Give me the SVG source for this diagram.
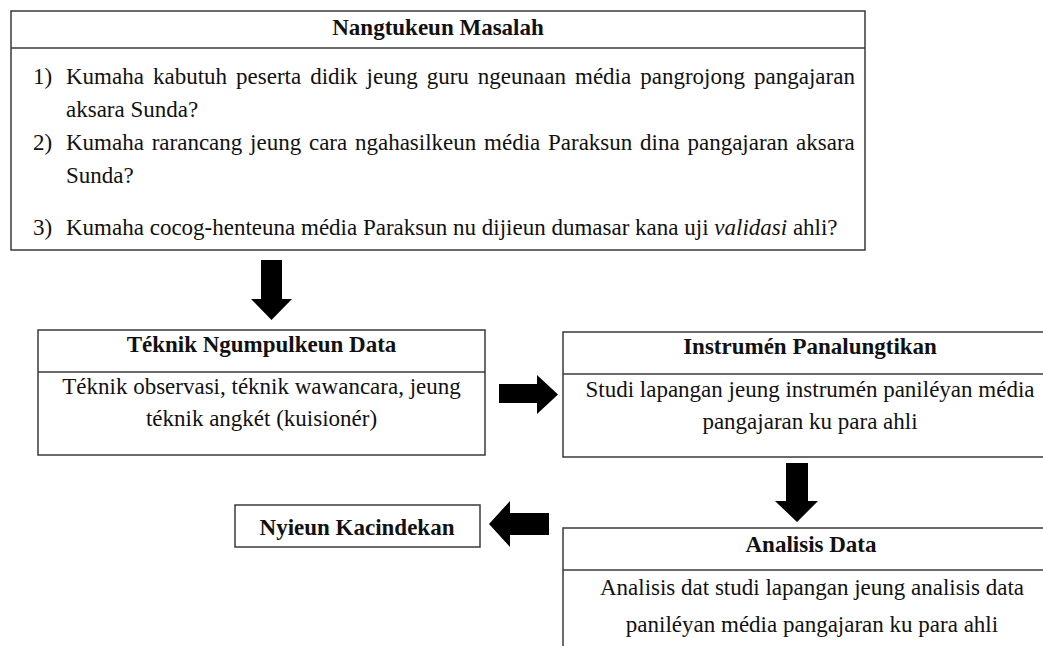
<svg xmlns="http://www.w3.org/2000/svg" width="1043" height="646" viewBox="0 0 1043 646">
<style>
.box{fill:#fff;stroke:#3a3a3a;stroke-width:1.5}
.ln{stroke:#3a3a3a;stroke-width:1.5}
.t{font-family:"Liberation Serif","Times New Roman",serif;font-size:23px;fill:#111}
.b{font-weight:bold}
.c{text-anchor:middle}
.arr{fill:#000}
</style>
<rect width="1043" height="646" fill="#fff"/>
<g id="n-masalah">
<rect class="box" x="11" y="11" width="854" height="239"/>
<line class="ln" x1="11" y1="48" x2="865" y2="48"/>
<text class="t b c" x="438" y="35">Nangtukeun Masalah</text>
<text class="t" x="33" y="84">1)</text>
<text class="t" x="66" y="84" word-spacing="3.28">Kumaha kabutuh peserta didik jeung guru ngeunaan média pangrojong pangajaran</text>
<text class="t" x="66" y="117">aksara Sunda?</text>
<text class="t" x="33" y="150">2)</text>
<text class="t" x="66" y="150" word-spacing="2.0">Kumaha rarancang jeung cara ngahasilkeun média Paraksun dina pangajaran aksara</text>
<text class="t" x="66" y="183">Sunda?</text>
<text class="t" x="33" y="235">3)</text>
<text class="t" x="66" y="235">Kumaha cocog-henteuna média Paraksun nu dijieun dumasar kana uji <tspan font-style="italic">validasi</tspan> ahli?</text>
</g>
<g id="n-teknik">
<rect class="box" x="38" y="330" width="447" height="125"/>
<line class="ln" x1="38" y1="372" x2="485" y2="372"/>
<text class="t b c" x="261.5" y="352">Téknik Ngumpulkeun Data</text>
<text class="t c" x="261.5" y="394">Téknik observasi, téknik wawancara, jeung</text>
<text class="t c" x="261.5" y="426">téknik angkét (kuisionér)</text>
</g>
<g id="n-instrumen">
<rect class="box" x="563" y="332" width="494" height="125"/>
<line class="ln" x1="563" y1="374" x2="1057" y2="374"/>
<text class="t b c" x="810" y="354">Instrumén Panalungtikan</text>
<text class="t c" x="810" y="397">Studi lapangan jeung instrumén paniléyan média</text>
<text class="t c" x="810" y="429">pangajaran ku para ahli</text>
</g>
<g id="n-analisis">
<rect class="box" x="563" y="528" width="494" height="140"/>
<line class="ln" x1="563" y1="570" x2="1057" y2="570"/>
<text class="t b c" x="811" y="552">Analisis Data</text>
<text class="t c" x="812" y="595">Analisis dat studi lapangan jeung analisis data</text>
<text class="t c" x="812" y="632">paniléyan média pangajaran ku para ahli</text>
</g>
<g id="n-kacindekan">
<rect class="box" x="235" y="505" width="245" height="42"/>
<text class="t b c" x="357" y="535">Nyieun Kacindekan</text>
</g>
<g id="connectors">
<polygon class="arr" points="261,260 282,260 282,299 292,299 271.5,320 251,299 261,299"/>
<polygon class="arr" points="499,384 537,384 537,375 558,394.5 537,414 537,403 499,403"/>
<polygon class="arr" points="786,463 808,463 808,501 818,501 797,522 775,501 786,501"/>
<polygon class="arr" points="549,513 510,513 510,501 489,524 510,547 510,535 549,535"/>
</g>
</svg>
